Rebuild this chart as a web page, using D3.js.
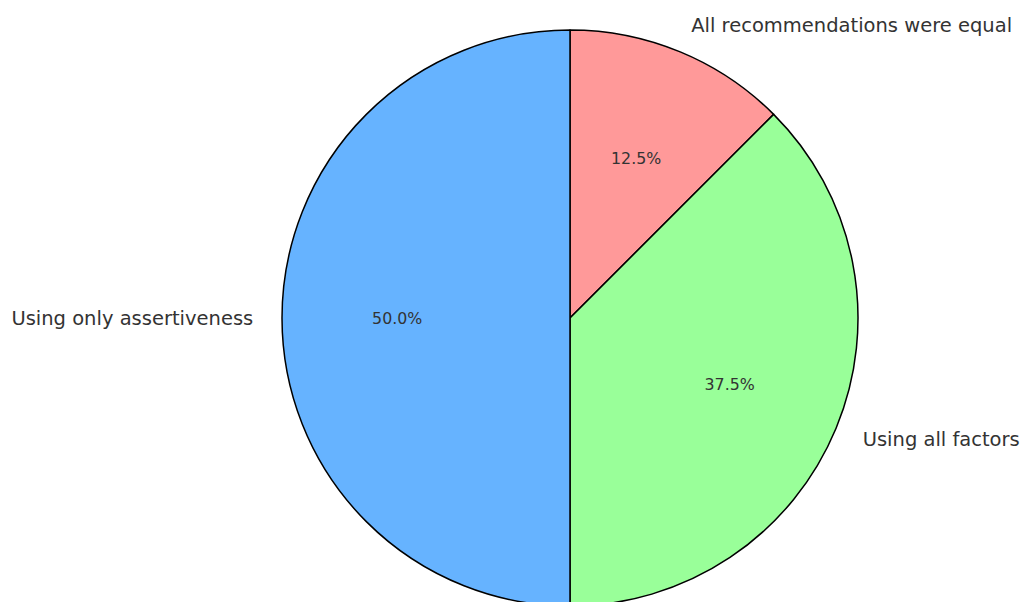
<!DOCTYPE html>
<html><head><meta charset="utf-8">
<script src="https://cdn.jsdelivr.net/npm/d3@7"></script>
<style>body{margin:0;background:#fff;overflow:hidden}svg{display:block}</style>
</head><body>
<svg id="chart" width="1020" height="602"></svg>
<script>
const categories = ["All recommendations were equal", "Using all factors", "Using only assertiveness"];
const values = [12.5, 37.5, 50.0];
const colors = ["#ff9999", "#99ff99", "#66b3ff"];

const svg = d3.select("#chart");
const cx = 570, cy = 318, r = 288;
const g = svg.append("g").attr("transform", `translate(${cx},${cy})`);
const pie = d3.pie().sort(null).value(d => d.v);
const arcs = pie(categories.map((c, i) => ({c, v: values[i], col: colors[i]})));
const arc = d3.arc().innerRadius(0).outerRadius(r);
g.selectAll("path.slice").data(arcs).join("path")
  .attr("d", arc).attr("fill", d => d.data.col)
  .attr("stroke", "#000").attr("stroke-width", 1.5).attr("stroke-linejoin", "round");
const total = d3.sum(values);
const mid = d => (d.startAngle + d.endAngle) / 2;
g.selectAll("text.pct").data(arcs).join("text")
  .attr("x", d => 0.6 * r * Math.sin(mid(d)))
  .attr("y", d => -0.6 * r * Math.cos(mid(d)))
  .attr("text-anchor", "middle").attr("dominant-baseline", "central")
  .attr("font-family", "DejaVu Sans").attr("font-size", 15.8).attr("fill", "#333")
  .text(d => (d.data.v / total * 100).toFixed(1) + "%");
g.selectAll("text.lab").data(arcs).join("text")
  .attr("x", d => 1.1 * r * Math.sin(mid(d)))
  .attr("y", d => -1.1 * r * Math.cos(mid(d)))
  .attr("text-anchor", d => Math.sin(mid(d)) > 0.001 ? "start" : (Math.sin(mid(d)) < -0.001 ? "end" : "middle"))
  .attr("dominant-baseline", "central")
  .attr("font-family", "DejaVu Sans").attr("font-size", 19.5).attr("fill", "#333")
  .text(d => d.data.c);
</script>
</body></html>
